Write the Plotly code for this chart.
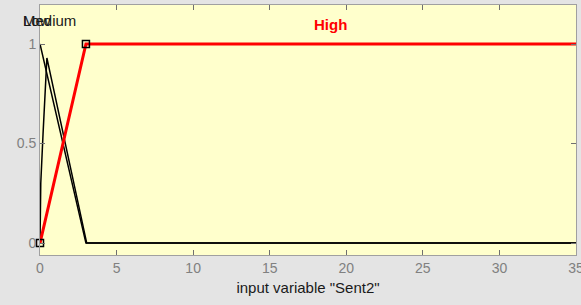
import plotly.graph_objects as go

# Membership functions for input variable "Sent2"
low_x = [0, 3, 35]
low_y = [1, 0, 0]
medium_x = [0, 0.05, 0.2, 0.45, 3.05, 35]
medium_y = [0, 0.3, 0.55, 0.93, 0, 0]
high_x = [0, 3, 35]
high_y = [0, 1, 1]
high_marker_x = [0, 3]
high_marker_y = [0, 1]

mf_names = ["Low", "Medium", "High"]
label_x = [0, 0.6, 19]
label_shift = [-3, 0, 0]
label_y = [1.12, 1.12, 1.1]

x_ticks = [0, 5, 10, 15, 20, 25, 30, 35]
y_ticks = [0, 0.5, 1]
y_tick_text = ["0", "0.5", "1"]

font_family = "Arial, Liberation Sans, sans-serif"

fig = go.Figure()
fig.add_trace(go.Scatter(x=low_x, y=low_y, mode="lines",
                         line=dict(color="black", width=1.5), showlegend=False))
fig.add_trace(go.Scatter(x=medium_x, y=medium_y, mode="lines",
                         line=dict(color="black", width=1.5), showlegend=False))
fig.add_trace(go.Scatter(x=high_x, y=high_y, mode="lines",
                         line=dict(color="#ff0000", width=3), showlegend=False))
fig.add_trace(go.Scatter(x=high_marker_x, y=high_marker_y, mode="markers",
                         marker=dict(symbol="square-open", size=7, color="black",
                                     line=dict(width=1.5, color="black")),
                         showlegend=False, cliponaxis=False))

label_colors = ["#1a1a1a", "#1a1a1a", "#ff0000"]
label_bold = [False, False, True]
for name, lx, sh, ly, c, b in zip(mf_names, label_x, label_shift, label_y,
                                  label_colors, label_bold):
    fig.add_annotation(x=lx, y=ly, xshift=sh, text=f"<b>{name}</b>" if b else name,
                       showarrow=False, xanchor="center", yanchor="middle",
                       font=dict(family=font_family, size=15, color=c))

fig.update_layout(
    width=581, height=305,
    margin=dict(l=40, r=5, t=5, b=50),
    paper_bgcolor="#e4e4e4",
    plot_bgcolor="#ffffcc",
    font=dict(family=font_family, size=14, color="#808080"),
)
fig.update_xaxes(range=[0, 35], tickvals=x_ticks, ticks="inside", ticklen=5,
                 tickcolor="#707070", showline=True, linecolor="#a0a0a0", linewidth=1,
                 mirror="ticks", showgrid=False, zeroline=False, automargin=False,
                 ticklabeloverflow="allow",
                 tickfont=dict(color="#808080", size=14),
                 title=dict(text='input variable "Sent2"', standoff=7,
                            font=dict(color="#1a1a1a", size=15)))
fig.update_yaxes(range=[-0.06, 1.196], tickvals=y_ticks, ticktext=y_tick_text,
                 ticks="inside", ticklen=5, tickcolor="#707070",
                 showline=True, linecolor="#a0a0a0", linewidth=1, mirror="ticks",
                 showgrid=False, zeroline=False, automargin=False,
                 tickfont=dict(color="#808080", size=14))

fig.write_html("out.html", config={"displayModeBar": False},
               post_script="document.body.style.margin='0';document.body.style.overflow='hidden';")
